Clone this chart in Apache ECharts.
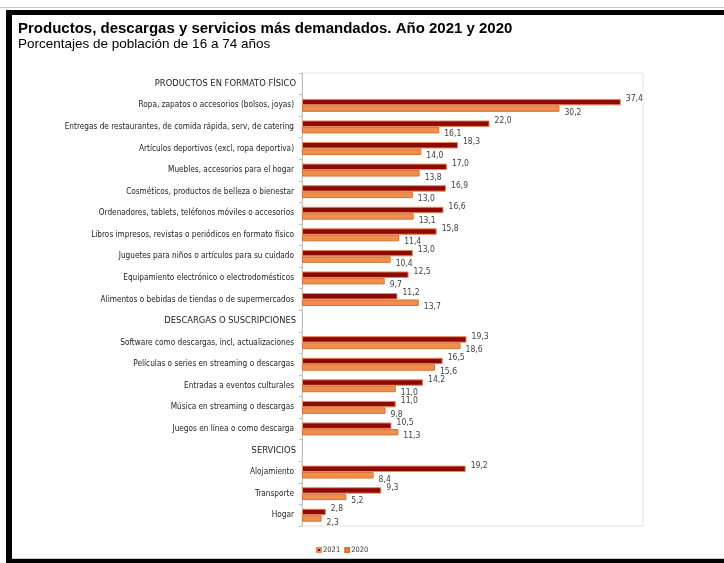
<!DOCTYPE html>
<html>
<head>
<meta charset="utf-8">
<script src="https://cdn.jsdelivr.net/npm/echarts@6/dist/echarts.min.js"></script>
<style>
html,body{margin:0;padding:0;background:#fff;}
#c{width:724px;height:563px;}
</style>
</head>
<body>
<div id="c"></div>
<script>
const categories = [
  "PRODUCTOS EN FORMATO FÍSICO",
  "Ropa, zapatos o accesorios (bolsos, joyas)",
  "Entregas de restaurantes, de comida rápida, serv, de catering",
  "Artículos deportivos (excl, ropa deportiva)",
  "Muebles, accesorios para el hogar",
  "Cosméticos, productos de belleza o bienestar",
  "Ordenadores, tablets, teléfonos móviles o accesorios",
  "Libros impresos, revistas o periódicos en formato físico",
  "Juguetes para niños o artículos para su cuidado",
  "Equipamiento electrónico o electrodomésticos",
  "Alimentos o bebidas de tiendas o de supermercados",
  "DESCARGAS O SUSCRIPCIONES",
  "Software como descargas, incl, actualizaciones",
  "Películas o series en streaming o descargas",
  "Entradas a eventos culturales",
  "Música en streaming o descargas",
  "Juegos en línea o como descarga",
  "SERVICIOS",
  "Alojamiento",
  "Transporte",
  "Hogar"
];
const sectionHeaders = ["PRODUCTOS EN FORMATO FÍSICO", "DESCARGAS O SUSCRIPCIONES", "SERVICIOS"];
const values2021 = [null, 37.4, 22.0, 18.3, 17.0, 16.9, 16.6, 15.8, 13.0, 12.5, 11.2, null, 19.3, 16.5, 14.2, 11.0, 10.5, null, 19.2, 9.3, 2.8];
const values2020 = [null, 30.2, 16.1, 14.0, 13.8, 13.0, 13.1, 11.4, 10.4, 9.7, 13.7, null, 18.6, 15.6, 11.0, 9.8, 11.3, null, 8.4, 5.2, 2.3];
const seriesNames = ["2021", "2020"];

const narrow = "'DejaVu Sans Condensed', 'Liberation Sans Narrow', sans-serif";
const fmt = p => p.value == null ? '' : p.value.toFixed(1).replace('.', ',');

const chart = echarts.init(document.getElementById('c'), null, {renderer: 'canvas'});
chart.setOption({
  animation: false,
  backgroundColor: '#fff',
  title: [
    {text: 'Productos, descargas y servicios más demandados. Año 2021 y 2020', left: 13, top: 16, padding: 5,
     textStyle: {fontFamily: "'Liberation Sans', Arial, sans-serif", fontWeight: 'bold', fontSize: 15, color: '#000'}},
    {text: 'Porcentajes de población de 16 a 74 años', left: 13, top: 32, padding: 5,
     textStyle: {fontFamily: "'Liberation Sans', Arial, sans-serif", fontWeight: 'normal', fontSize: 13.5, color: '#000'}}
  ],
  graphic: [
    {type: 'rect', shape: {x: 0, y: 7, width: 724, height: 1}, style: {fill: '#c8c8c8'}, silent: true},
    {type: 'rect', shape: {x: 6, y: 10, width: 718, height: 5}, style: {fill: '#000'}, silent: true},
    {type: 'rect', shape: {x: 6, y: 10, width: 6, height: 553}, style: {fill: '#000'}, silent: true},
    {type: 'rect', shape: {x: 12, y: 558, width: 712, height: 1}, style: {fill: '#c8c8c8'}, silent: true},
    {type: 'rect', shape: {x: 6, y: 559, width: 718, height: 4}, style: {fill: '#000'}, silent: true}
  ],
  legend: {
    data: seriesNames,
    left: 311, top: 541,
    icon: 'rect', itemWidth: 4, itemHeight: 4, itemGap: 4,
    textStyle: {fontFamily: narrow, fontSize: 7.5, color: '#333', padding: [0, 0, 0, -3]}
  },
  grid: {left: 302, right: 81, top: 73, bottom: 37, show: true, borderColor: '#e3e3e3', borderWidth: 1, containLabel: false},
  xAxis: {type: 'value', min: 0, max: 40, show: false, splitLine: {show: false}},
  yAxis: {
    type: 'category', data: categories, inverse: true,
    axisLine: {show: true, lineStyle: {color: '#bfbfbf', width: 1}},
    axisTick: {show: true, length: 3, lineStyle: {color: '#bfbfbf'}},
    axisLabel: {
      fontFamily: narrow, fontSize: 8.2, color: '#222', margin: 8,
      formatter: v => sectionHeaders.includes(v) ? '{h|' + v + '}' : v,
      rich: {h: {fontFamily: "'DejaVu Sans', sans-serif", fontSize: 8.4, color: '#222', padding: [0, -2, 0, 0]}}
    }
  },
  series: [
    {name: seriesNames[0], type: 'bar', data: values2021, barGap: '0%', barCategoryGap: '40%',
     itemStyle: {color: '#8B0A06', borderColor: '#E8895E', borderWidth: 1},
     label: {show: true, position: 'right', distance: 5, offset: [0, -3], formatter: fmt,
             fontFamily: narrow, fontSize: 8.5, color: '#404040'}},
    {name: seriesNames[1], type: 'bar', data: values2020,
     itemStyle: {color: '#EF8F4B', borderColor: '#D7703A', borderWidth: 1},
     label: {show: true, position: 'right', distance: 5, offset: [0, 4], formatter: fmt,
             fontFamily: narrow, fontSize: 8.5, color: '#404040'}}
  ]
});
</script>
</body>
</html>
